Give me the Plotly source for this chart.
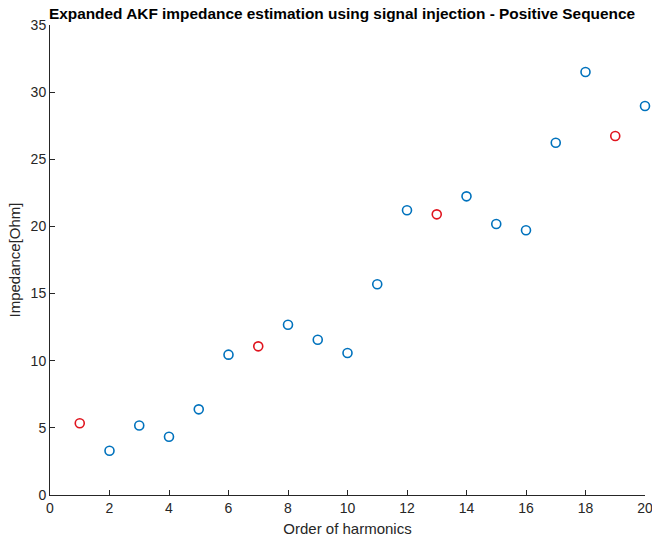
import plotly.graph_objects as go

# Harmonic orders and estimated impedance values
harmonics = list(range(1, 21))
impedance = [5.34, 3.30, 5.17, 4.34, 6.38, 10.45, 11.07, 12.68, 11.56, 10.57,
             15.69, 21.20, 20.90, 22.24, 20.18, 19.71, 26.23, 31.50, 26.73, 28.97]

# Harmonics of the order 6k+1 are highlighted in red
red_orders = [1, 7, 13, 19]

blue_x = [h for h in harmonics if h not in red_orders]
blue_y = [impedance[h - 1] for h in blue_x]
red_x = [h for h in harmonics if h in red_orders]
red_y = [impedance[h - 1] for h in red_x]

x_ticks = list(range(0, 21, 2))
y_ticks = list(range(0, 36, 5))

FONT = "Liberation Sans, Arial, sans-serif"

fig = go.Figure()
fig.add_trace(go.Scatter(
    x=blue_x, y=blue_y, mode="markers",
    marker=dict(symbol="circle-open", size=9, color="#0072BD",
                line=dict(width=1.6, color="#0072BD")),
    showlegend=False, cliponaxis=False,
))
fig.add_trace(go.Scatter(
    x=red_x, y=red_y, mode="markers",
    marker=dict(symbol="circle-open", size=9, color="#E0141E",
                line=dict(width=1.6, color="#E0141E")),
    showlegend=False, cliponaxis=False,
))

axis_common = dict(
    showline=True, linecolor="#262626", linewidth=1,
    ticks="inside", ticklen=5, tickwidth=1, tickcolor="#262626",
    showgrid=False, zeroline=False, mirror=False,
    automargin=False,
    ticklabeloverflow="allow",
    tickfont=dict(family=FONT, size=14, color="#262626"),
)

fig.update_layout(
    width=652, height=537,
    margin=dict(l=50, r=7, t=25, b=42),
    paper_bgcolor="white", plot_bgcolor="white",
    title=dict(
        text="<b>Expanded AKF impedance estimation using signal injection - Positive Sequence</b>",
        x=(47 + 637) / 2 / 652, xanchor="center", y=1 - 14 / 537, yanchor="middle",
        font=dict(family=FONT, size=15.4, color="black"),
    ),
    xaxis=dict(
        range=[0, 20], tickvals=x_ticks,
        title=dict(text="Order of harmonics", standoff=8,
                   font=dict(family=FONT, size=15, color="#262626")),
        **axis_common,
    ),
    yaxis=dict(
        range=[0, 35], tickvals=y_ticks,
        title=dict(text="Impedance[Ohm]", standoff=6,
                   font=dict(family=FONT, size=15, color="#262626")),
        **axis_common,
    ),
)

fig.write_html("out.html")
